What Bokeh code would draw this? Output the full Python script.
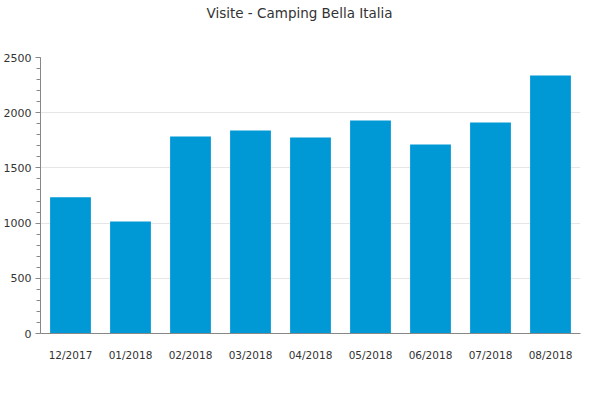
from bokeh.plotting import figure
from bokeh.models import Range1d, FactorRange, Title
from bokeh.embed import file_html
from bokeh.resources import INLINE

months = ["12/2017", "01/2018", "02/2018", "03/2018", "04/2018",
          "05/2018", "06/2018", "07/2018", "08/2018"]
visits = [1235, 1014, 1784, 1839, 1775, 1929, 1712, 1911, 2337]
title_text = "Visite - Camping Bella Italia"

p = figure(width=592, height=392, output_backend="svg", toolbar_location=None,
           x_range=FactorRange(factors=months, range_padding=0),
           y_range=Range1d(0, 2500),
           min_border_left=40, min_border_right=12, min_border_top=57,
           min_border_bottom=59)

p.vbar(x=months, top=visits, width=0.68, color="#0099D6", line_color=None)

# main title (outermost panel)
p.title.text = title_text
p.title.align = "left"
p.title.offset = 166
p.title.vertical_align = "top"
p.title.standoff = 5
p.title.text_font = "DejaVu Sans"
p.title.text_font_size = "13.5px"
p.title.text_font_style = "normal"
p.title.text_color = "#333333"

# invisible spacer panel between title and frame
spacer = Title(text=" ", text_font="DejaVu Sans", text_font_size="13.5px",
               text_color="white", standoff=14)
p.add_layout(spacer, "above")

p.outline_line_color = None
p.background_fill_color = "white"
p.border_fill_color = "white"

p.xgrid.grid_line_color = None
p.ygrid.grid_line_color = "#e6e6e6"

p.xaxis.axis_line_color = "#888888"
p.xaxis.major_tick_line_color = None
p.xaxis.minor_tick_line_color = None
p.xaxis.major_label_text_font = "DejaVu Sans"
p.xaxis.major_label_text_font_size = "10.5px"
p.xaxis.major_label_text_color = "#333333"
p.xaxis.major_label_standoff = 9

p.yaxis.ticker.desired_num_ticks = 6
p.yaxis.ticker.num_minor_ticks = 5
p.yaxis.axis_line_color = "#888888"
p.yaxis.major_tick_line_color = "#888888"
p.yaxis.minor_tick_line_color = "#888888"
p.yaxis.major_tick_out = 5
p.yaxis.major_tick_in = 0
p.yaxis.minor_tick_out = 4
p.yaxis.minor_tick_in = 0
p.yaxis.major_label_text_font = "DejaVu Sans"
p.yaxis.major_label_text_font_size = "11px"
p.yaxis.major_label_text_color = "#333333"
p.yaxis.major_label_standoff = 4

open("out.html", "w").write(file_html(p, INLINE))
